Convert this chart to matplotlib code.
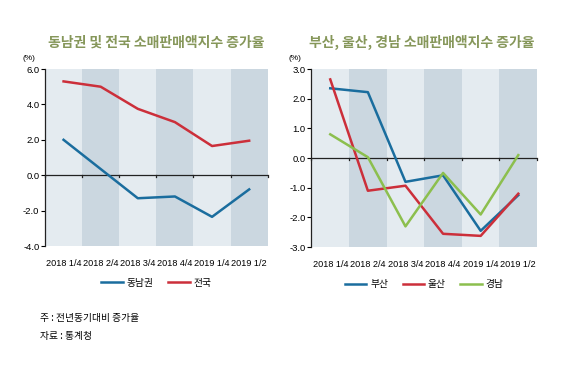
import matplotlib
matplotlib.use('Agg')
from matplotlib import pyplot as plt

plt.rcParams['font.family'] = ['Noto Sans CJK KR', 'DejaVu Sans']

quarters = ['2018 1/4', '2018 2/4', '2018 3/4', '2018 4/4', '2019 1/4', '2019 1/2']

# left panel
southeast = [2.0, 0.35, -1.3, -1.2, -2.35, -0.8]
nation = [5.3, 5.0, 3.75, 3.0, 1.65, 1.95]

# right panel
busan = [2.35, 2.22, -0.8, -0.58, -2.45, -1.25]
ulsan = [2.65, -1.1, -0.93, -2.55, -2.62, -1.2]
gyeongnam = [0.8, 0.03, -2.3, -0.5, -1.9, 0.1]

BLUE = '#1a6d9e'
RED = '#cc2f3a'
GREEN = '#8cbf4e'
LIGHT = '#e4ebf0'
DARK = '#cbd7e0'
TITLE = '#86975a'
NUM_FONT = ['Liberation Sans', 'DejaVu Sans']

fig = plt.figure(figsize=(5.8, 3.7), dpi=100)

def panel(rect, series, ylim, yticks, title, title_x):
    ax = fig.add_axes(rect)
    n = len(quarters)
    for i in range(n):
        ax.axvspan(i - 0.5, i + 0.5, color=LIGHT if i % 2 == 0 else DARK, lw=0, zorder=0)
    ax.axhline(0, color='#222222', lw=0.9, zorder=2)
    for i in range(n + 1):
        ax.plot([i - 0.5, i - 0.5], [0, -(ylim[1] - ylim[0]) * 0.012], color='#222222', lw=0.9, zorder=2, clip_on=False)
    for vals, color, label in series:
        ax.plot(range(n), vals, color=color, lw=1.8, label=label, zorder=3)
    ax.set_xlim(-0.5, n - 0.5)
    ax.set_ylim(*ylim)
    ax.set_yticks(yticks)
    ax.set_yticklabels([f'{t:.1f}' for t in yticks], fontsize=6.8, family=NUM_FONT)
    ax.set_xticks(range(n))
    ax.set_xticklabels(quarters, fontsize=6.6, family=NUM_FONT)
    ax.tick_params(axis='x', length=0, pad=9)
    ax.tick_params(axis='y', length=3, width=0.8, pad=1, direction='out')
    for side in ['top', 'right', 'bottom']:
        ax.spines[side].set_visible(False)
    ax.spines['left'].set_color('#222222')
    ax.spines['left'].set_linewidth(0.9)
    ax.text(-0.1, 1.04, '(%)', transform=ax.transAxes, fontsize=6, ha='left', va='bottom', family=NUM_FONT)
    fig.text(title_x, 0.885, title, color=TITLE, fontsize=10, fontweight='bold', ha='center', va='center')
    ax.legend(loc='upper center', bbox_to_anchor=(0.5, -0.13), ncol=len(series), frameon=False,
              fontsize=7, handlelength=2.2, columnspacing=1.5, handletextpad=0.4)
    return ax

panel([0.0776, 0.335, 0.384, 0.4785],
      [(southeast, BLUE, '동남권'), (nation, RED, '전국')],
      (-4.0, 6.0), [6.0, 4.0, 2.0, 0.0, -2.0, -4.0],
      '동남권 및 전국 소매판매액지수 증가율', 0.27)

panel([0.537, 0.332, 0.389, 0.4815],
      [(busan, BLUE, '부산'), (ulsan, RED, '울산'), (gyeongnam, GREEN, '경남')],
      (-3.0, 3.0), [3.0, 2.0, 1.0, 0.0, -1.0, -2.0, -3.0],
      '부산, 울산, 경남 소매판매액지수 증가율', 0.728)

fig.text(0.069, 0.141, '주 : 전년동기대비 증가율', fontsize=7, ha='left', va='center')
fig.text(0.069, 0.093, '자료 : 통계청', fontsize=7, ha='left', va='center')

fig.savefig('out.png', dpi=100, facecolor='white')
